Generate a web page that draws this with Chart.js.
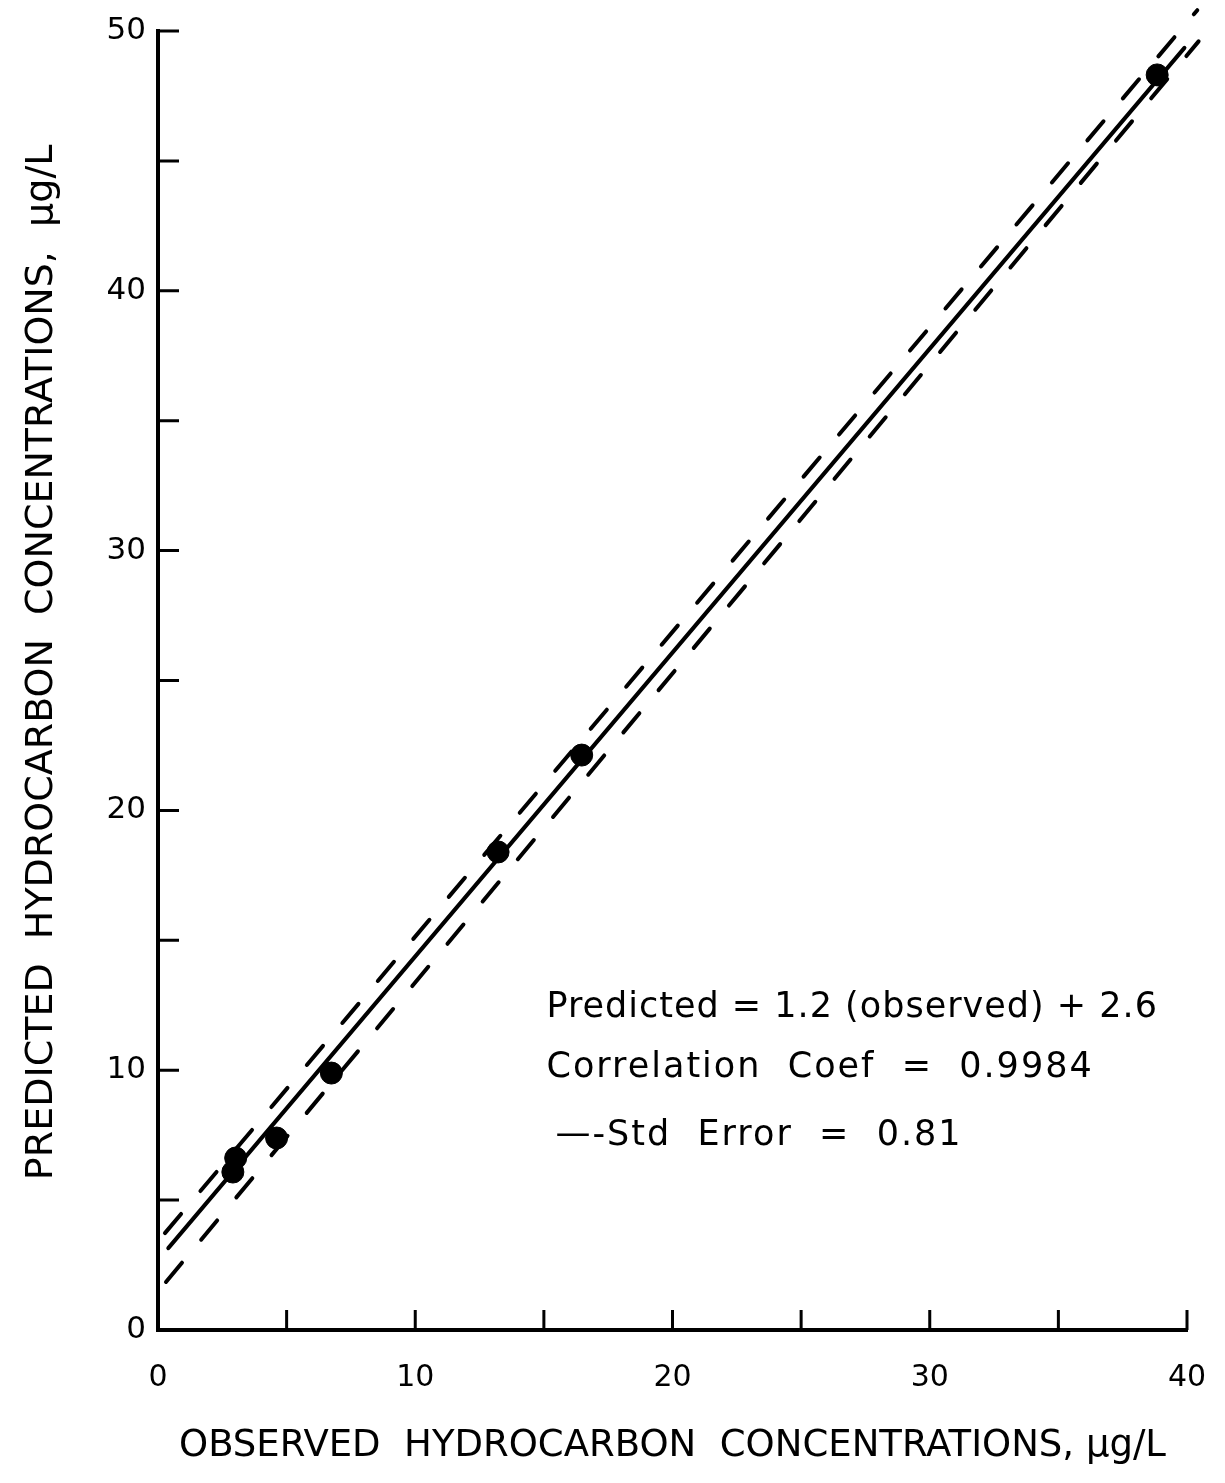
<!DOCTYPE html>
<html>
<head>
<meta charset="utf-8">
<script src="https://cdn.jsdelivr.net/npm/chart.js@4.4.1/dist/chart.umd.min.js"></script>
<style>
  body { margin: 0; background: #fff; }
  canvas { display: block; }
</style>
</head>
<body>
<canvas id="myChart" width="1225" height="1483"></canvas>
<script>
// observed vs predicted hydrocarbon concentrations (ug/L)
const observed = [2.91, 3.02, 4.61, 6.74, 13.22, 16.47, 38.84];
const predicted = [6.08, 6.62, 7.39, 9.89, 18.40, 22.13, 48.31];

// regression line and +/- std error lines, as drawn (end points)
const fitX = [0.4, 39.9];
const fitY = [3.15, 49.35];
const upperX = [0.27, 40.4];
const upperY = [3.73, 50.8];
const lowerX = [0.31, 40.45];
const lowerY = [1.85, 49.6];

const xTicks = [0, 5, 10, 15, 20, 25, 30, 35, 40];
const yTicks = [0, 5, 10, 15, 20, 25, 30, 35, 40, 45, 50];

const noteLines = [
    'Predicted = 1.2 (observed) + 2.6',
    'Correlation  Coef  =  0.9984',
    '\u2014-Std  Error  =  0.81'
];

const toPts = (xs, ys) => xs.map((x, i) => ({x: x, y: ys[i]}));

const FONT = '"DejaVu Sans", "Liberation Sans", sans-serif';

// tick marks drawn inward, like the original plot
const innerTicks = {
    id: 'innerTicks',
    afterDraw(chart) {
        const ctx = chart.ctx;
        const xs = chart.scales.x, ys = chart.scales.y;
        const a = chart.chartArea;
        ctx.save();
        ctx.strokeStyle = '#000';
        ctx.lineWidth = 3;
        ctx.beginPath();
        yTicks.forEach(v => {
            if (v === 0) return;
            const py = ys.getPixelForValue(v);
            ctx.moveTo(a.left, py);
            ctx.lineTo(a.left + 21, py);
        });
        xTicks.forEach(v => {
            if (v === 0) return;
            const px = xs.getPixelForValue(v);
            ctx.moveTo(px, a.bottom);
            ctx.lineTo(px, a.bottom - 20);
        });
        ctx.stroke();
        ctx.restore();
    }
};

// equation / stats text inside the plot
const notes = {
    id: 'notes',
    afterDraw(chart) {
        const ctx = chart.ctx;
        const xs = chart.scales.x, ys = chart.scales.y;
        ctx.save();
        ctx.fillStyle = '#000';
        ctx.font = '35px ' + FONT;
        ctx.textBaseline = 'middle';
        ctx.textAlign = 'left';
        const x0 = xs.getPixelForValue(15.1);
        ctx.letterSpacing = '1px';
        ctx.fillText(noteLines[0], x0, ys.getPixelForValue(12.38));
        ctx.letterSpacing = '2px';
        ctx.fillText(noteLines[1], x0, ys.getPixelForValue(10.08));
        ctx.letterSpacing = '2px';
        ctx.fillText(noteLines[2], x0 + 9, ys.getPixelForValue(7.46));
        ctx.restore();
    }
};

const lineSet = (data, dash) => ({
    type: 'scatter',
    data: data,
    showLine: true,
    borderColor: '#000',
    borderWidth: 4,
    borderDash: dash,
    borderCapStyle: 'round',
    pointRadius: 0,
    pointHoverRadius: 0,
    clip: false
});

const ctx = document.getElementById('myChart').getContext('2d');

const myChart = new Chart(ctx, {
    type: 'scatter',
    data: {
        datasets: [
            lineSet(toPts(fitX, fitY), []),
            lineSet(toPts(upperX, upperY), [25, 30]),
            lineSet(toPts(lowerX, lowerY), [25, 30]),
            {
                data: toPts(observed, predicted),
                backgroundColor: '#000',
                borderColor: '#000',
                pointRadius: 11,
                pointHoverRadius: 11,
                clip: false
            }
        ]
    },
    options: {
        responsive: false,
        animation: false,
        events: [],
        layout: {
            padding: {left: 0, right: 38, top: 31, bottom: 0}
        },
        plugins: {
            legend: {display: false},
            tooltip: {enabled: false}
        },
        scales: {
            x: {
                type: 'linear',
                min: 0,
                max: 40,
                afterFit: s => {
                    s.height = 153;
                    s.paddingLeft = 0;
                    s.paddingRight = 0;
                },
                afterBuildTicks: s => { s.ticks = xTicks.map(v => ({value: v})); },
                grid: {display: false, drawTicks: false},
                border: {display: true, color: '#000', width: 4},
                ticks: {
                    autoSkip: false,
                    maxRotation: 0,
                    padding: 30,
                    color: '#000',
                    font: {family: FONT, size: 30},
                    callback: v => (v % 10 === 0 ? v : '')
                },
                title: {
                    display: true,
                    text: 'OBSERVED  HYDROCARBON  CONCENTRATIONS, \u03bcg/L',
                    color: '#000',
                    font: {family: FONT, size: 37},
                    padding: {top: 0, bottom: 14}
                }
            },
            y: {
                type: 'linear',
                min: 0,
                max: 50,
                afterFit: s => {
                    s.width = 158;
                    s.paddingTop = 0;
                    s.paddingBottom = 0;
                },
                afterBuildTicks: s => { s.ticks = yTicks.map(v => ({value: v})); },
                grid: {display: false, drawTicks: false},
                border: {display: true, color: '#000', width: 4},
                ticks: {
                    autoSkip: false,
                    padding: 12,
                    color: '#000',
                    font: {family: FONT, size: 31},
                    callback: v => (v % 10 === 0 ? v : '')
                },
                title: {
                    display: true,
                    // leading spaces nudge the label up a little, as in the original
                    text: '   PREDICTED  HYDROCARBON  CONCENTRATIONS,  \u03bcg/L',
                    color: '#000',
                    font: {family: FONT, size: 38},
                    padding: {top: 19, bottom: 0}
                }
            }
        }
    },
    plugins: [innerTicks, notes]
});
</script>
</body>
</html>
